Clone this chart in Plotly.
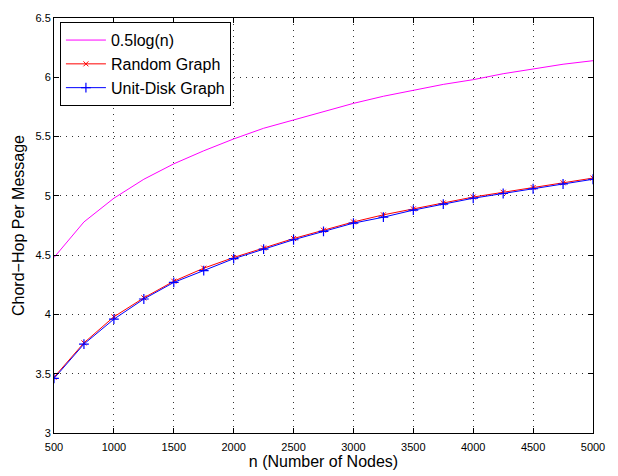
import plotly.graph_objects as go

n_nodes = [500, 750, 1000, 1250, 1500, 1750, 2000, 2250, 2500, 2750, 3000,
           3250, 3500, 3750, 4000, 4250, 4500, 4750, 5000]
half_log = [4.48, 4.78, 4.98, 5.14, 5.27, 5.38, 5.48, 5.57, 5.64, 5.71, 5.78,
            5.84, 5.89, 5.94, 5.98, 6.03, 6.07, 6.11, 6.14]
random_graph = [3.47, 3.76, 3.98, 4.14, 4.28, 4.39, 4.48, 4.56, 4.64, 4.71, 4.78,
                4.84, 4.89, 4.94, 4.99, 5.03, 5.07, 5.11, 5.15]
unit_disk = [3.46, 3.75, 3.96, 4.13, 4.27, 4.37, 4.47, 4.55, 4.63, 4.70, 4.77,
             4.82, 4.88, 4.93, 4.98, 5.02, 5.06, 5.10, 5.14]
x_ticks = [500, 1000, 1500, 2000, 2500, 3000, 3500, 4000, 4500, 5000]
y_ticks = [3, 3.5, 4, 4.5, 5, 5.5, 6, 6.5]

fig = go.Figure()
fig.add_trace(go.Scatter(x=n_nodes, y=half_log, mode="lines", name="0.5log(n)",
                         line=dict(color="#ff00ff", width=1)))
fig.add_trace(go.Scatter(x=n_nodes, y=random_graph, mode="lines+markers", name="Random Graph",
                         line=dict(color="#ff0000", width=1),
                         marker=dict(symbol="x-thin", size=5,
                                     line=dict(color="#ff0000", width=1))))
fig.add_trace(go.Scatter(x=n_nodes, y=unit_disk, mode="lines+markers", name="Unit-Disk Graph",
                         line=dict(color="#0000ff", width=1),
                         marker=dict(symbol="cross-thin", size=7,
                                     line=dict(color="#0000ff", width=1.2))))

axis_common = dict(showline=True, linecolor="black", linewidth=1, mirror="ticks",
                   ticks="inside", ticklen=5, tickcolor="black",
                   showgrid=True, gridcolor="#333333", griddash="1px,5px", gridwidth=1,
                   zeroline=False, tickfont=dict(size=11, color="black"))

fig.update_xaxes(range=[500, 5000], tickvals=x_ticks, ticktext=[str(t) for t in x_ticks],
                 ticklabelstandoff=4,
                 title=dict(text="n (Number of Nodes)", font=dict(size=16, color="black"), standoff=0),
                 **axis_common)
fig.update_yaxes(range=[3, 6.5], tickvals=y_ticks, ticktext=[("%g" % t) for t in y_ticks],
                 title=dict(text="Chord−Hop Per Message", font=dict(size=16, color="black"), standoff=6),
                 **axis_common)

fig.update_layout(
    width=618, height=476,
    margin=dict(l=54, r=25, t=13, b=39),
    paper_bgcolor="white", plot_bgcolor="white",
    font=dict(family="Liberation Sans, Arial, sans-serif", color="black"),
    showlegend=True,
    legend=dict(x=0.011, y=0.99, xanchor="left", yanchor="top",
                bgcolor="white", bordercolor="black", borderwidth=1,
                font=dict(size=16, color="black"), tracegroupgap=0,
                itemwidth=40),
)

fig.write_html("out.html")
